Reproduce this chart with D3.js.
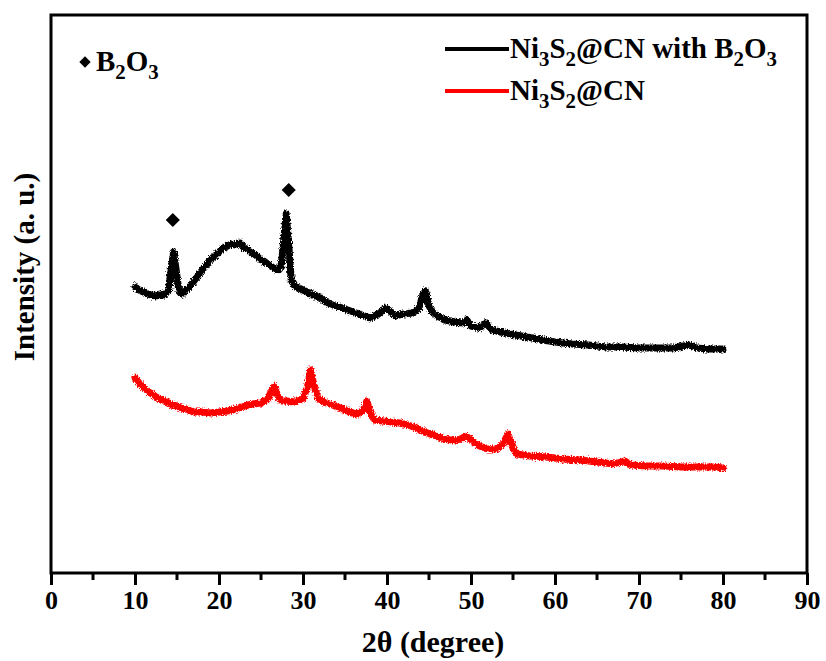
<!DOCTYPE html>
<html>
<head>
<meta charset="utf-8">
<script src="https://cdn.jsdelivr.net/npm/d3@7"></script>
<style>
  body { margin: 0; background: #fff; }
  text { font-family: "Liberation Serif", "Times New Roman", serif; font-weight: bold; }
</style>
</head>
<body>
<div id="chart"></div>
<script>
// 2-theta positions and intensities (a.u.)
const blackTheta = [10.0, 10.5, 11.0, 11.5, 12.0, 12.5, 13.0, 13.5, 14.0, 14.3, 14.6, 14.9, 15.2, 15.6, 16.0, 16.5,
  17.0, 17.5, 18.0, 18.5, 19.0, 19.5, 20.0, 20.5, 21.0, 21.5, 22.0, 22.5, 23.0, 23.5, 24.0, 24.5, 25.0, 25.5,
  26.0, 26.5, 27.0, 27.4, 27.7, 28.0, 28.3, 28.6, 29.0, 29.5, 30.0, 31.0, 32.0, 33.0, 34.0, 35.0, 36.0, 37.0,
  38.0, 39.0, 39.8, 40.5, 41.0, 42.0, 43.0, 43.8, 44.3, 44.6, 45.0, 45.5, 46.0, 47.0, 48.0, 49.0, 49.5, 50.0,
  51.0, 51.8, 52.5, 54.0, 56.0, 58.0, 60.0, 62.0, 64.0, 66.0, 68.0, 70.0, 72.0, 74.0, 76.0, 77.0, 78.0, 80.0];
const blackInt = [286, 283, 281, 279, 278, 277, 279, 278, 283, 303, 321, 303, 283, 279, 283, 286,
  292, 297, 303, 308, 314, 317, 321, 325, 327, 329, 328, 330, 325, 323, 320, 317, 313, 311,
  308, 305, 303, 307, 333, 359, 328, 293, 287, 285, 283, 279, 275, 270, 267, 264, 261, 258,
  255, 259, 265, 261, 257, 259, 260, 265, 279, 282, 267, 260, 257, 253, 251, 250, 253, 247,
  245, 250, 243, 240, 237, 234, 231, 229, 228, 226, 226, 225, 225, 225, 228, 225, 224, 224];

const redTheta = [10.0, 10.5, 11.0, 11.5, 12.0, 12.5, 13.0, 13.5, 14.0, 14.5, 15.0, 15.5, 16.0, 17.0, 18.0, 19.0,
  20.0, 21.0, 22.0, 23.0, 24.0, 25.0, 25.8, 26.3, 26.6, 27.0, 27.5, 28.0, 29.0, 30.0, 30.5, 30.9, 31.3, 31.8,
  32.5, 33.5, 34.5, 35.5, 36.5, 37.2, 37.6, 38.0, 38.5, 39.5, 40.5, 41.5, 42.5, 43.5, 44.5, 45.5, 46.5, 47.5,
  48.5, 49.4, 50.0, 51.0, 52.0, 53.0, 53.8, 54.4, 55.0, 55.5, 57.0, 59.0, 61.0, 63.0, 65.0, 67.0, 68.3, 69.0,
  71.0, 73.0, 75.0, 77.0, 79.0, 80.0];
const redInt = [195, 190, 186, 182, 179, 176, 174, 172, 170, 168, 167, 165, 164, 161, 161, 160,
  161, 162, 164, 167, 169, 170, 174, 183, 187, 177, 172, 172, 171, 174, 185, 203, 188, 175,
  171, 168, 165, 161, 159, 163, 172, 161, 153, 152, 151, 150, 148, 145, 141, 138, 135, 133,
  133, 137, 133, 127, 124, 124, 129, 139, 125, 119, 117, 116, 114, 113, 111, 109, 112, 108,
  107, 107, 106, 106, 106, 105];

// B2O3 reflections marked with diamonds
const markTheta = [14.5, 28.3];
const markInt = [353, 383];

const xTicks = [0, 10, 20, 30, 40, 50, 60, 70, 80, 90];
const xMinor = [5, 15, 25, 35, 45, 55, 65, 75, 85];

const W = 826, H = 661;
const M = {left: 51, right: 19, top: 15, bottom: 88};

const svg = d3.select('#chart').append('svg')
  .attr('width', W).attr('height', H);

// rough edge so the traces look like noisy scans
const defs = svg.append('defs');
const rough = defs.append('filter').attr('id', 'rough')
  .attr('x', '-5%').attr('y', '-20%').attr('width', '110%').attr('height', '140%');
rough.append('feTurbulence')
  .attr('type', 'fractalNoise').attr('baseFrequency', '0.9 0.6')
  .attr('numOctaves', 2).attr('seed', 3).attr('result', 'noise');
rough.append('feDisplacementMap')
  .attr('in', 'SourceGraphic').attr('in2', 'noise')
  .attr('scale', 5).attr('xChannelSelector', 'R').attr('yChannelSelector', 'G');

const x = d3.scaleLinear().domain([0, 90]).range([M.left, W - M.right]);
const y = d3.scaleLinear().domain([0, 558]).range([H - M.bottom, M.top]);

const line = d3.line()
  .x(d => x(d[0]))
  .y(d => y(d[1]))
  .curve(d3.curveLinear);

// curves
svg.append('path')
  .datum(d3.zip(blackTheta, blackInt))
  .attr('fill', 'none')
  .attr('stroke', '#000')
  .attr('stroke-width', 7)
  .attr('stroke-linejoin', 'round')
  .attr('stroke-linecap', 'round')
  .attr('filter', 'url(#rough)')
  .attr('d', line);

svg.append('path')
  .datum(d3.zip(redTheta, redInt))
  .attr('fill', 'none')
  .attr('stroke', '#ff0000')
  .attr('stroke-width', 7)
  .attr('stroke-linejoin', 'round')
  .attr('stroke-linecap', 'round')
  .attr('filter', 'url(#rough)')
  .attr('d', line);

// diamond markers
const diamond = d3.symbol().type(d3.symbolSquare).size(100);
svg.selectAll('.mark')
  .data(d3.zip(markTheta, markInt))
  .join('path')
  .attr('class', 'mark')
  .attr('d', diamond)
  .attr('fill', '#000')
  .attr('transform', d => `translate(${x(d[0])},${y(d[1])}) rotate(45)`);

// frame
svg.append('rect')
  .attr('x', M.left).attr('y', M.top)
  .attr('width', W - M.left - M.right)
  .attr('height', H - M.top - M.bottom)
  .attr('fill', 'none')
  .attr('stroke', '#000')
  .attr('stroke-width', 3);

// x axis
const xAxis = svg.append('g')
  .attr('transform', `translate(0,${H - M.bottom})`)
  .call(d3.axisBottom(x).tickValues(xTicks).tickSize(12).tickPadding(6).tickFormat(d3.format('d')));
xAxis.select('.domain').remove();
xAxis.selectAll('line').attr('stroke-width', 3);
xAxis.selectAll('text')
  .attr('font-size', 26)
  .attr('font-family', '"Liberation Serif", serif')
  .attr('font-weight', 'bold')
  .attr('fill', '#000');

svg.append('g')
  .attr('transform', `translate(0,${H - M.bottom})`)
  .selectAll('line')
  .data(xMinor)
  .join('line')
  .attr('x1', d => x(d)).attr('x2', d => x(d))
  .attr('y1', 0).attr('y2', 7)
  .attr('stroke', '#000')
  .attr('stroke-width', 3);

// axis titles
svg.append('text')
  .attr('x', (M.left + W - M.right) / 2 + 4)
  .attr('y', 652)
  .attr('text-anchor', 'middle')
  .attr('font-size', 30)
  .text('2θ (degree)');

svg.append('text')
  .attr('transform', `translate(34,267) rotate(-90)`)
  .attr('text-anchor', 'middle')
  .attr('font-size', 29)
  .text('Intensity (a. u.)');

// helper for chemical formulae with subscripts
function formula(g, parts, size) {
  const t = g.append('text').attr('font-size', size);
  let shift = 0;
  parts.forEach(p => {
    if (p.sub) {
      t.append('tspan').attr('font-size', size * 0.72).attr('dy', 8 - shift).text(p.sub);
      shift = 8;
    } else {
      t.append('tspan').attr('dy', -shift).text(p.t);
      shift = 0;
    }
  });
  return t;
}

// B2O3 key
const key = svg.append('g').attr('transform', 'translate(96,71)');
key.append('path')
  .attr('d', d3.symbol().type(d3.symbolSquare).size(64))
  .attr('transform', 'translate(-11,-9) rotate(45)')
  .attr('fill', '#000');
formula(key, [{t: 'B'}, {sub: '2'}, {t: 'O'}, {sub: '3'}], 29);

// legend
const legendItems = [
  {color: '#000', parts: [{t: 'Ni'}, {sub: '3'}, {t: 'S'}, {sub: '2'}, {t: '@CN with B'}, {sub: '2'}, {t: 'O'}, {sub: '3'}]},
  {color: '#ff0000', parts: [{t: 'Ni'}, {sub: '3'}, {t: 'S'}, {sub: '2'}, {t: '@CN'}]}
];
legendItems.forEach((it, i) => {
  const g = svg.append('g').attr('transform', `translate(445,${58 + i * 42})`);
  g.append('line')
    .attr('x1', 0).attr('x2', 64)
    .attr('y1', -9).attr('y2', -9)
    .attr('stroke', it.color)
    .attr('stroke-width', 4);
  formula(g, it.parts, 29).attr('x', 65);
});
</script>
</body>
</html>
